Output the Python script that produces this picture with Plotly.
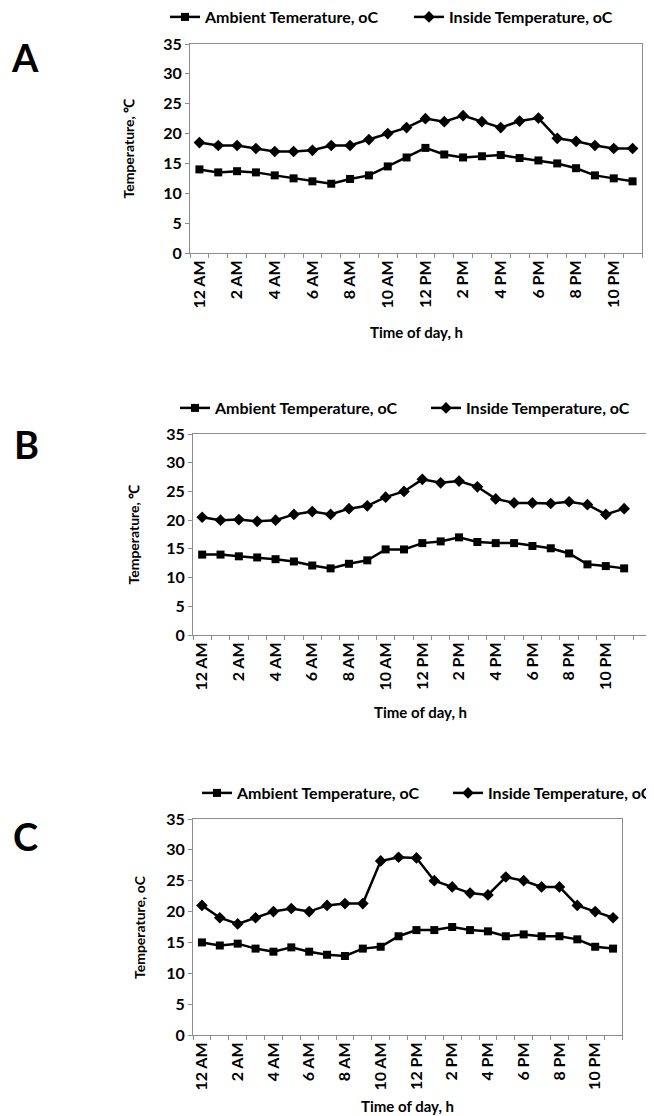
import plotly.graph_objects as go

W, H = 654, 1116
OFF = 8  # page body margin of the browser

hours = list(range(24))
tick_positions = hours[::2]
tick_labels = ["12 AM", "2 AM", "4 AM", "6 AM", "8 AM", "10 AM",
               "12 PM", "2 PM", "4 PM", "6 PM", "8 PM", "10 PM"]

ambient_a = [14, 13.5, 13.7, 13.5, 13, 12.5, 12, 11.6, 12.4, 13, 14.5, 16,
             17.6, 16.5, 16, 16.2, 16.4, 15.9, 15.5, 15, 14.2, 13, 12.5, 12]
inside_a = [18.5, 18, 18, 17.5, 17, 17, 17.2, 18, 18, 19, 20, 21,
            22.5, 22, 23, 22, 21, 22.1, 22.6, 19.2, 18.7, 18, 17.5, 17.5]

ambient_b = [14, 14, 13.7, 13.5, 13.2, 12.8, 12.1, 11.6, 12.4, 13, 14.9, 14.9,
             16, 16.3, 17, 16.2, 16, 16, 15.5, 15.1, 14.2, 12.3, 12, 11.6]
inside_b = [20.5, 20, 20.1, 19.8, 20, 21, 21.5, 21, 22, 22.5, 24, 25,
            27.1, 26.5, 26.8, 25.8, 23.7, 23, 23, 22.9, 23.2, 22.7, 21, 22]

ambient_c = [15, 14.5, 14.8, 14, 13.5, 14.2, 13.5, 13, 12.8, 14, 14.3, 16,
             17, 17, 17.5, 17, 16.8, 16, 16.3, 16, 16, 15.5, 14.3, 14]
inside_c = [21, 19, 18, 19, 20, 20.5, 20, 21, 21.3, 21.3, 28.2, 28.8,
            28.7, 25, 24, 23, 22.7, 25.6, 25, 24, 24, 21, 20, 19]

panels = [
    dict(letter="A", amb=ambient_a, ins=inside_a,
         amb_name="Ambient Temerature, oC", ins_name="Inside Temperature, oC",
         ytitle="Temperature, \u2103", ytitle_x=128),
    dict(letter="B", amb=ambient_b, ins=inside_b,
         amb_name="Ambient Temperature, oC", ins_name="Inside Temperature, oC",
         ytitle="Temperature, \u2103", ytitle_x=133),
    dict(letter="C", amb=ambient_c, ins=inside_c,
         amb_name="Ambient Temperature, oC", ins_name="Inside Temperature, oC",
         ytitle="Temperature, oC", ytitle_x=139),
]

# target screen geometry in pixels (left, right, top, bottom)
boxes = [(190, 642, 44, 253), (193, 648, 434, 635), (193, 622, 819, 1035)]
xranges = [[-0.5, 23.5], [-0.5, 24.3], [-0.5, 23.5]]
# legend rows: (text start of ambient entry, text start of inside entry, y)
legend_pos = [(205, 449, 17), (215, 466, 408), (237, 488, 793)]
letter_pos = [(25, 57), (26, 444), (25, 836)]
xtitle_y = [332, 712, 1106]

FONT = "Lato, 'Open Sans', sans-serif"
GRAY = "#8c8c8c"

def px(x):
    return (x - OFF) / W

def py(y):
    return 1 - (y - OFF) / H

fig = go.Figure()
layout = dict(width=W, height=H, margin=dict(l=0, r=0, t=0, b=0, autoexpand=False),
              paper_bgcolor="white", plot_bgcolor="white", showlegend=True,
              font=dict(family=FONT, color="black", size=13, weight="bold"),
              annotations=[])

leg_idx = 0
for i, p in enumerate(panels):
    n = "" if i == 0 else str(i + 1)
    xa, ya = "x" + n, "y" + n
    lx1, lx2, ly = legend_pos[i]
    for name, vals, sym, size, lx in [(p["amb_name"], p["amb"], "square", 8, lx1),
                                      (p["ins_name"], p["ins"], "diamond", 9, lx2)]:
        leg_idx += 1
        lg = "legend" if leg_idx == 1 else "legend" + str(leg_idx)
        fig.add_trace(go.Scatter(x=hours, y=vals, name=name, mode="lines+markers",
                                 line=dict(color="black", width=2.5),
                                 marker=dict(symbol=sym, size=size, color="black"),
                                 xaxis=xa, yaxis=ya, legend=lg, showlegend=True))
        layout[lg] = dict(orientation="h", x=px(lx - 40), y=py(ly), xanchor="left", yanchor="middle",
                          bgcolor="rgba(0,0,0,0)", visible=True,
                          font=dict(size=16, family=FONT, weight="bold", color="black"),
                          itemclick=False)
    l, r, t, b = boxes[i]
    layout["xaxis" + n] = dict(
        domain=[px(l), px(r)], anchor=ya, range=xranges[i],
        tickmode="array", tickvals=tick_positions, ticktext=tick_labels,
        tickangle=-90, ticks="", showgrid=False, zeroline=False,
        showline=True, linecolor=GRAY, linewidth=1, mirror=True,
        tickfont=dict(size=16, family=FONT, weight="bold"),
        minor=dict(tickmode="array", tickvals=[h - 0.5 for h in hours] + [23.5],
                   ticks="outside", ticklen=4, tickcolor=GRAY, showgrid=False),
    )
    layout["yaxis" + n] = dict(
        domain=[py(b), py(t)], anchor=xa, range=[0, 35], dtick=5,
        ticks="outside", ticklen=4, tickcolor=GRAY, showgrid=False, zeroline=False,
        showline=True, linecolor=GRAY, linewidth=1, mirror=True,
        tickfont=dict(size=16, family=FONT, weight="bold"),
    )
    lxp, lyp = letter_pos[i]
    layout["annotations"].append(dict(text=p["letter"], x=px(lxp), y=py(lyp), xref="paper", yref="paper",
                                      xanchor="center", yanchor="middle", showarrow=False,
                                      font=dict(size=38, family=FONT, weight="bold")))
    layout["annotations"].append(dict(text=p["ytitle"], x=px(p["ytitle_x"]), y=py((t + b) / 2),
                                      xref="paper", yref="paper", textangle=-90, showarrow=False,
                                      xanchor="center", yanchor="middle",
                                      font=dict(size=14, family=FONT, weight="bold")))
    layout["annotations"].append(dict(text="Time of day, h", x=px((l + r) / 2), y=py(xtitle_y[i]),
                                      xref="paper", yref="paper", showarrow=False,
                                      xanchor="center", yanchor="middle",
                                      font=dict(size=15, family=FONT, weight="bold")))

fig.update_layout(**layout)
fig.write_html("out.html")
